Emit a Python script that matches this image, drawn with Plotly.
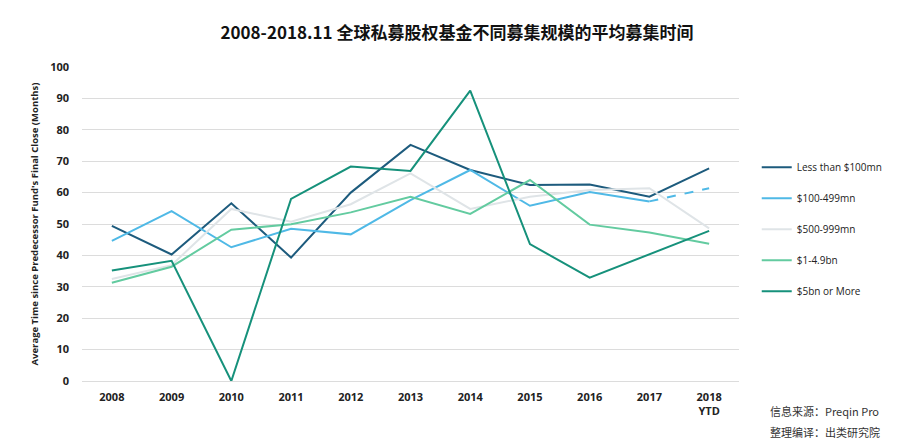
import plotly.graph_objects as go

years = ["2008", "2009", "2010", "2011", "2012", "2013", "2014", "2015", "2016", "2017", "2018<br>YTD"]
less_100mn = [49.4, 40.3, 56.6, 39.3, 60.0, 75.2, 67.2, 62.4, 62.6, 58.7, 67.7]
s100_499mn = [44.6, 54.1, 42.6, 48.5, 46.7, 57.6, 67.2, 55.8, 60.2, 57.2, 61.4]
s500_999mn = [32.5, 36.9, 54.8, 50.7, 56.3, 66.1, 54.8, 58.7, 60.8, 61.4, 48.6]
s1_49bn = [31.3, 36.4, 48.2, 49.9, 53.7, 58.7, 53.2, 64.0, 49.8, 47.3, 43.7]
s5bn_more = [35.2, 38.3, 0.0, 58.0, 68.3, 66.9, 92.5, 43.6, 32.9, 40.3, 47.8]

names = ["Less than $100mn", "$100-499mn", "$500-999mn", "$1-4.9bn", "$5bn or More"]
colors = ["#1d5b7d", "#4fb9e6", "#dfe4e7", "#63cba0", "#16917b"]

# page body has an 8px margin; build the figure 8px smaller so it lines up
W, H = 898, 439
ML, MR, MT, MB = 74, 167, 59, 66

fig = go.Figure()
series = [less_100mn, s100_499mn, s500_999mn, s1_49bn, s5bn_more]
for i, (nm, vals, c) in enumerate(zip(names, series, colors)):
    if i == 1:
        fig.add_trace(go.Scatter(x=years[:-1], y=vals[:-1], mode="lines", name=nm,
                                 line=dict(color=c, width=2), legendgroup=nm, cliponaxis=False))
        fig.add_trace(go.Scatter(x=years[-2:], y=vals[-2:], mode="lines", name=nm,
                                 line=dict(color=c, width=2, dash="dash"), legendgroup=nm,
                                 showlegend=False, cliponaxis=False))
    else:
        fig.add_trace(go.Scatter(x=years, y=vals, mode="lines", name=nm,
                                 line=dict(color=c, width=2), legendgroup=nm, cliponaxis=False))

fig.update_layout(
    width=W, height=H,
    margin=dict(l=ML, r=MR, t=MT, b=MB),
    paper_bgcolor="white", plot_bgcolor="white",
    font=dict(family="Open Sans, Noto Sans CJK SC, sans-serif", color="#222"),
    title=dict(text="<b>2008-2018.11 全球私募股权基金不同募集规模的平均募集时间</b>",
               x=0.5, xanchor="center", y=1 - 25 / H, yanchor="middle",
               font=dict(size=17, family="Noto Sans CJK SC, sans-serif", color="#111")),
    legend=dict(x=1.027, y=0.4835, xanchor="left", yanchor="middle",
                font=dict(size=10, color="#222"), tracegroupgap=12, itemwidth=30,
                bgcolor="rgba(0,0,0,0)"),
    xaxis=dict(type="category", range=[-0.5, 10.5], showgrid=False, showline=False,
               ticks="", tickfont=dict(size=11, color="#222"), tickprefix="<b>", ticksuffix="</b>",
               ticklabelstandoff=8),
    yaxis=dict(range=[0, 100], dtick=10, showgrid=True, gridcolor="#dcdcdc", gridwidth=1,
               zeroline=True, zerolinecolor="#dcdcdc", zerolinewidth=1, ticks="",
               tickfont=dict(size=11, color="#222"), tickprefix="<b>", ticksuffix="</b>",
               ticklabelstandoff=12,
               title=dict(text="<b>Average Time since Predecessor Fund's Final Close (Months)</b>",
                          font=dict(size=9.5, color="#222"), standoff=9)),
)

src = [("信息来源：Preqin Pro", 768, 411), ("整理编译：出类研究院", 768, 432)]
pw, ph = W - ML - MR, H - MT - MB
for txt, px, py in src:
    fx, fy = px - 8, py - 8
    fig.add_annotation(x=(fx - ML) / pw, y=(H - MB - fy) / ph, xref="paper", yref="paper",
                       text=txt, showarrow=False, xanchor="left", yanchor="middle",
                       font=dict(size=11, family="Noto Sans CJK SC, sans-serif", color="#333"))

fig.write_html("out.html")
